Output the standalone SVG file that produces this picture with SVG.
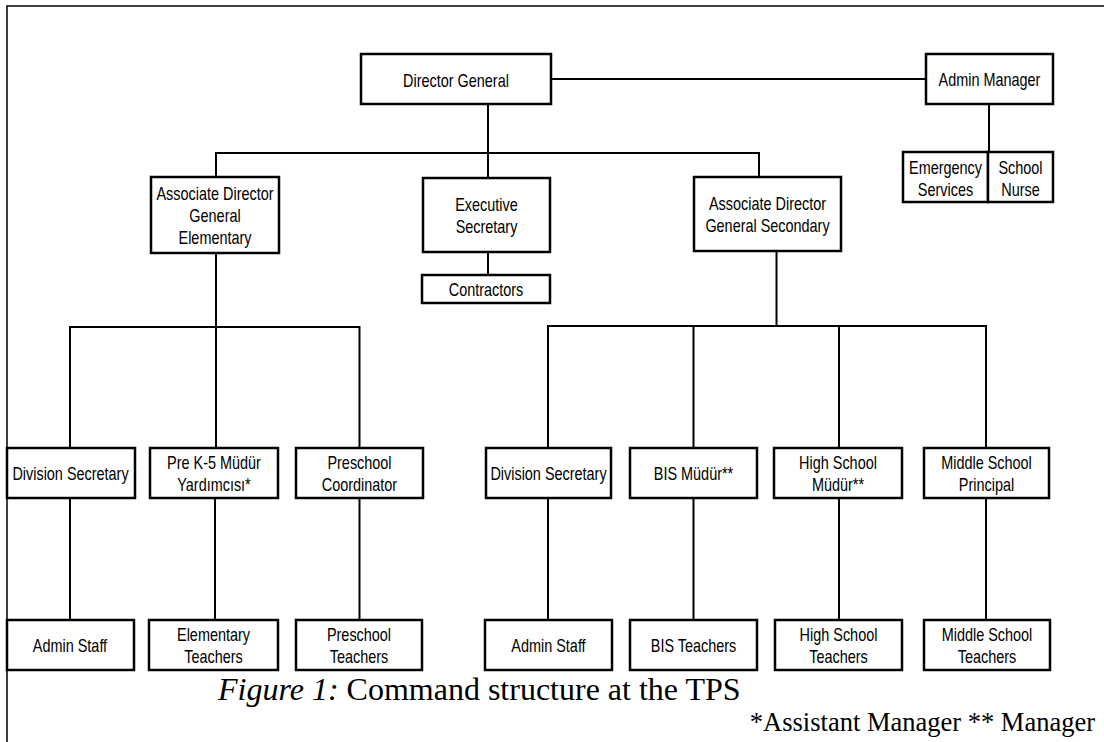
<svg xmlns="http://www.w3.org/2000/svg" width="1104" height="742" viewBox="0 0 1104 742">
<style>
.box{fill:#fff;stroke:#000;stroke-width:2.5}
.ln{fill:none;stroke:#000;stroke-width:2}
.frame{fill:none;stroke:#000;stroke-width:1.5}
.t{font-family:"Liberation Sans",Arial,sans-serif;font-size:18.5px;text-anchor:middle;fill:#000}
.cap{font-family:"Liberation Serif","Times New Roman",serif;fill:#000}
</style>
<rect x="0" y="0" width="1104" height="742" fill="#fff"/>
<path class="frame" d="M7,742 V6 H1104"/>
<g id="connectors">
<path class="ln" d="M551,79 H926"/>
<path class="ln" d="M989,104 V152"/>
<path class="ln" d="M488,104 V178"/>
<path class="ln" d="M216,177 V153 H759 V177"/>
<path class="ln" d="M488,252 V275"/>
<path class="ln" d="M216,253 V448"/>
<path class="ln" d="M70,448 V327 H359.5 V448"/>
<path class="ln" d="M776.5,251 V326"/>
<path class="ln" d="M548,448 V326 H986 V448"/>
<path class="ln" d="M693.5,326 V448"/>
<path class="ln" d="M839,326 V448"/>
<path class="ln" d="M70,498 V620"/>
<path class="ln" d="M215,498 V620"/>
<path class="ln" d="M359.5,498 V620"/>
<path class="ln" d="M548,498 V620"/>
<path class="ln" d="M693.5,498 V620"/>
<path class="ln" d="M839,498 V620"/>
<path class="ln" d="M986,498 V620"/>
</g>
<g id="director-general">
<rect class="box" x="361" y="54" width="190" height="50"/>
<text class="t" transform="translate(456,86.5) scale(0.78,1)">Director General</text>
</g>
<g id="admin-manager">
<rect class="box" x="926" y="54" width="127" height="50"/>
<text class="t" transform="translate(989.5,86) scale(0.78,1)">Admin Manager</text>
</g>
<g id="emergency-services">
<rect class="box" x="903" y="152" width="85" height="50"/>
<text class="t" transform="translate(945.5,173.5) scale(0.78,1)"><tspan x="0">Emergency</tspan><tspan x="0" dy="22.5">Services</tspan></text>
</g>
<g id="school-nurse">
<rect class="box" x="988" y="152" width="65" height="50"/>
<text class="t" transform="translate(1020.5,173.5) scale(0.78,1)"><tspan x="0">School</tspan><tspan x="0" dy="22.5">Nurse</tspan></text>
</g>
<g id="adg-elementary">
<rect class="box" x="151" y="177" width="128" height="76"/>
<text class="t" transform="translate(215,199.5) scale(0.78,1)"><tspan x="0">Associate Director</tspan><tspan x="0" dy="22.5">General</tspan><tspan x="0" dy="22.5">Elementary</tspan></text>
</g>
<g id="executive-secretary">
<rect class="box" x="423" y="178" width="127" height="74"/>
<text class="t" transform="translate(486.5,210.5) scale(0.78,1)"><tspan x="0">Executive</tspan><tspan x="0" dy="23">Secretary</tspan></text>
</g>
<g id="contractors">
<rect class="box" x="422" y="275" width="128" height="28"/>
<text class="t" transform="translate(486,295.5) scale(0.78,1)">Contractors</text>
</g>
<g id="adg-secondary">
<rect class="box" x="694" y="177" width="147" height="74"/>
<text class="t" transform="translate(767.5,209.5) scale(0.78,1)"><tspan x="0">Associate Director</tspan><tspan x="0" dy="23">General Secondary</tspan></text>
</g>
<g id="division-secretary-elem">
<rect class="box" x="7" y="448" width="128" height="50"/>
<text class="t" transform="translate(70.5,479.5) scale(0.78,1)">Division Secretary</text>
</g>
<g id="prek5-mudur-yardimcisi">
<rect class="box" x="150" y="448" width="128" height="50"/>
<text class="t" transform="translate(214,469) scale(0.78,1)"><tspan x="0">Pre K-5 Müdür</tspan><tspan x="0" dy="22.5">Yardımcısı*</tspan></text>
</g>
<g id="preschool-coordinator">
<rect class="box" x="296" y="448" width="127" height="50"/>
<text class="t" transform="translate(359.5,469) scale(0.78,1)"><tspan x="0">Preschool</tspan><tspan x="0" dy="22.5">Coordinator</tspan></text>
</g>
<g id="division-secretary-sec">
<rect class="box" x="486" y="448" width="125" height="50"/>
<text class="t" transform="translate(548.5,479.5) scale(0.78,1)">Division Secretary</text>
</g>
<g id="bis-mudur">
<rect class="box" x="630" y="448" width="127" height="50"/>
<text class="t" transform="translate(693.5,479.5) scale(0.78,1)">BIS Müdür**</text>
</g>
<g id="high-school-mudur">
<rect class="box" x="774" y="448" width="128" height="50"/>
<text class="t" transform="translate(838,468.5) scale(0.78,1)"><tspan x="0">High School</tspan><tspan x="0" dy="22.5">Müdür**</tspan></text>
</g>
<g id="middle-school-principal">
<rect class="box" x="924" y="448" width="125" height="50"/>
<text class="t" transform="translate(986.5,468.5) scale(0.78,1)"><tspan x="0">Middle School</tspan><tspan x="0" dy="22.5">Principal</tspan></text>
</g>
<g id="admin-staff-elem">
<rect class="box" x="7" y="620" width="127" height="50"/>
<text class="t" transform="translate(70,651.5) scale(0.78,1)">Admin Staff</text>
</g>
<g id="elementary-teachers">
<rect class="box" x="149" y="620" width="129" height="50"/>
<text class="t" transform="translate(213.5,641) scale(0.78,1)"><tspan x="0">Elementary</tspan><tspan x="0" dy="22.5">Teachers</tspan></text>
</g>
<g id="preschool-teachers">
<rect class="box" x="296" y="620" width="126" height="50"/>
<text class="t" transform="translate(359,641) scale(0.78,1)"><tspan x="0">Preschool</tspan><tspan x="0" dy="22.5">Teachers</tspan></text>
</g>
<g id="admin-staff-sec">
<rect class="box" x="485" y="620" width="127" height="50"/>
<text class="t" transform="translate(548.5,651.5) scale(0.78,1)">Admin Staff</text>
</g>
<g id="bis-teachers">
<rect class="box" x="630" y="620" width="127" height="50"/>
<text class="t" transform="translate(693.5,651.5) scale(0.78,1)">BIS Teachers</text>
</g>
<g id="high-school-teachers">
<rect class="box" x="775" y="620" width="127" height="50"/>
<text class="t" transform="translate(838.5,641) scale(0.78,1)"><tspan x="0">High School</tspan><tspan x="0" dy="22.5">Teachers</tspan></text>
</g>
<g id="middle-school-teachers">
<rect class="box" x="924" y="620" width="126" height="50"/>
<text class="t" transform="translate(987,641) scale(0.78,1)"><tspan x="0">Middle School</tspan><tspan x="0" dy="22.5">Teachers</tspan></text>
</g>
<text class="cap" x="218" y="700" font-size="32"><tspan font-style="italic">Figure 1:</tspan> Command structure at the TPS</text>
<text class="cap" x="1095" y="731" font-size="26.5" text-anchor="end">*Assistant Manager ** Manager</text>
</svg>
